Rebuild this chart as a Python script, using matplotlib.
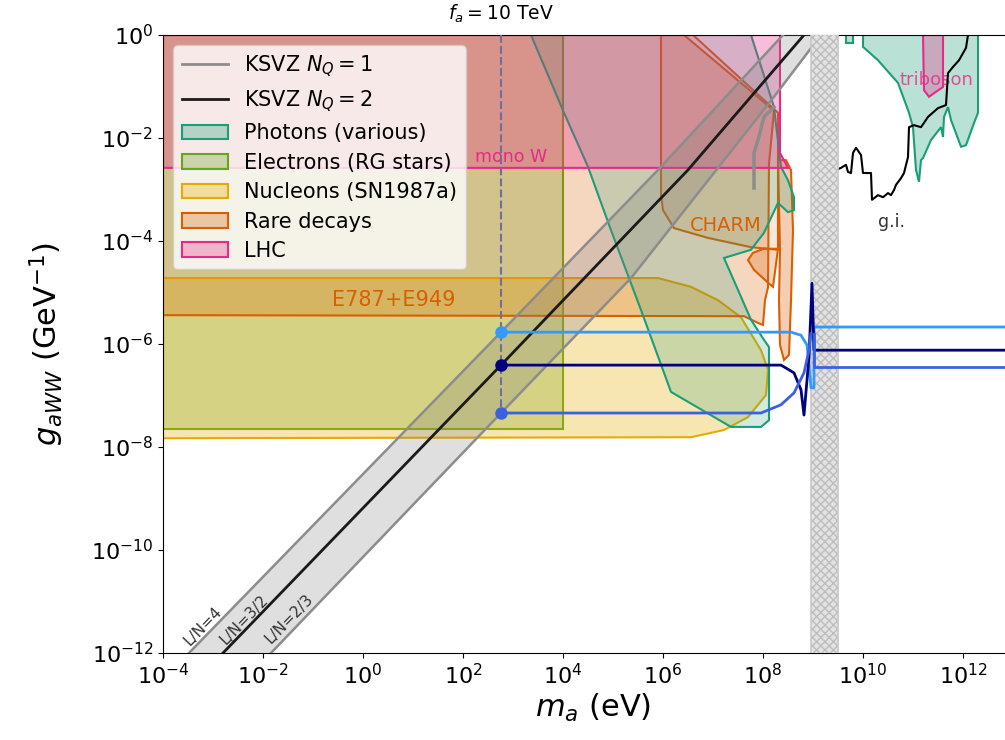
import numpy as np
import matplotlib.pyplot as plt
from matplotlib.colors import to_rgba
from matplotlib.patches import Patch
from matplotlib.lines import Line2D

# colores (Dark2)
teal, orange, pink, green, yellow = '#1b9e77', '#d95f02', '#e7298a', '#66a61e', '#e6ab02'

# --- datos: log10(m_a / eV), log10(g_aWW / GeV^-1) ---
ksvz_up_lm = [-3.48, 2.76, 5.9, 8.4]
ksvz_up_lg = [-12.0, -5.77, -2.62, 0.0]
ksvz_mid_lm = [-2.8, 2.76, 6.5, 8.82]
ksvz_mid_lg = [-12.0, -6.41, -2.62, 0.0]
ksvz_low_lm = [-1.84, 2.76, 5.36, 8.22, 9.16]
ksvz_low_lg = [-12.0, -7.34, -4.72, -1.2, 0.0]
nq1_lm = [7.82, 7.82, 7.9, 8.02, 8.22]
nq1_lg = [-2.97, -2.29, -2.04, -1.59, -1.40]

electrons_lm = [-4, 4.0, 4.0, -4]
electrons_lg = [0, 0, -7.66, -7.66]

nucleons_lm = [-4, 5.9, 6.56, 7.1, 7.56, 7.96, 8.1, 8.06, 7.7, 7.22, 6.56, -4]
nucleons_lg = [-4.72, -4.72, -4.89, -5.15, -5.48, -6.12, -6.5, -6.99, -7.42, -7.67, -7.81, -7.83]

e787_lm = [-4, 6.42, 8.22, 8.12, 8.1, 8.04, 8.0, 7.9, 7.62, -4]
e787_lg = [0, 0, -1.47, -2.5, -4.9, -5.15, -5.63, -5.59, -5.46, -5.44]
charm_lm = [5.96, 6.6, 8.3, 8.3, 7.76, 6.9, 6.22, 6.0, 5.96]
charm_lg = [0, 0, -1.51, -4.17, -4.12, -3.94, -3.75, -3.40, -3.11]
lobe_a_lm = [7.7, 7.8, 8.02, 8.3, 8.2, 8.1, 7.82]
lobe_a_lg = [-4.37, -4.23, -4.15, -4.15, -4.89, -4.81, -4.56]
lobe_b_lm = [8.3, 8.34, 8.32, 8.34, 8.42, 8.52, 8.56, 8.6, 8.56, 8.46]
lobe_b_lg = [-2.43, -4.17, -5.15, -6.02, -6.31, -6.21, -5.15, -3.79, -2.62, -2.43]

photons_lm = [3.36, 4.02, 4.5, 4.96, 5.56, 6.16, 7.36, 7.96, 8.12, 8.12, 8.02, 7.76, 7.5,
              7.22, 7.76, 8.02, 8.3, 8.5, 8.62, 8.62, 8.5, 8.36, 8.22, 7.76]
photons_lg = [0, -1.51, -2.56, -3.79, -5.34, -6.93, -7.61, -7.61, -7.48, -6.06, -5.92, -5.53, -4.95,
              -4.33, -4.17, -3.84, -3.26, -3.44, -3.40, -3.15, -2.82, -2.56, -1.40, 0]
photons_hi_lm = [10.0, 10.0, 10.3, 10.7, 10.92, 11.0, 11.06, 11.12, 11.16, 11.2, 11.36, 11.56, 11.6,
                 11.62, 11.7, 11.76, 11.96, 12.06, 12.22, 12.3, 12.3]
photons_hi_lg = [0, -0.23, -0.49, -0.93, -1.51, -1.79, -2.62, -2.85, -2.43, -2.39, -2.04, -1.79, -1.98,
                 -1.59, -1.40, -1.65, -2.17, -2.14, -1.71, -1.51, 0]
photons_box_lm = [9.66, 9.8, 9.8, 9.66]
photons_box_lg = [0, 0, -0.16, -0.16]

monow_lm = [-4, 8.34, 8.34, 8.5, -4]
monow_lg = [0, 0, -2.29, -2.58, -2.58]
triboson_lm = [11.2, 11.22, 11.32, 11.42, 11.6, 11.6]
triboson_lg = [0, -1.07, -1.20, -1.13, -1.01, 0]

gi_lm = [9.46, 9.46, 9.56, 9.66, 9.70, 9.76, 9.80, 9.86, 9.96, 10.0, 10.16, 10.18, 10.30, 10.40,
         10.50, 10.56, 10.62, 10.66, 10.76, 10.82, 10.90, 10.92, 11.02, 11.16, 11.30, 11.50, 11.66,
         11.70, 11.80, 11.92, 12.06, 12.10]
gi_lg = [0, -2.62, -2.58, -2.52, -2.66, -2.68, -2.29, -2.19, -2.33, -2.68, -2.68, -3.20, -3.11, -3.15,
         -3.07, -3.11, -3.01, -2.91, -2.78, -2.68, -2.37, -1.79, -1.75, -1.79, -1.59, -1.42, -1.36,
         -0.74, -0.62, -0.49, -0.25, 0]

hatch_lm = [8.96, 9.5]

fa_lm = 2.76
light_lm = [2.76, 8.56, 8.76, 8.88, 8.92, 8.96, 9.02, 9.02, 14]
light_lg = [-5.77, -5.77, -5.83, -6.02, -6.41, -6.85, -6.85, -5.67, -5.67]
navy_lm = [2.76, 8.36, 8.62, 8.76, 8.82, 8.92, 8.98, 9.02, 14]
navy_lg = [-6.41, -6.41, -6.56, -6.89, -7.38, -6.25, -4.82, -6.12, -6.12]
royal_lm = [2.76, 7.96, 8.36, 8.62, 8.82, 8.92, 8.96]
royal_lg = [-7.34, -7.34, -7.18, -6.95, -6.56, -6.12, -5.8]
royal_r_lm = [9.02, 9.02, 14]
royal_r_lg = [-5.8, -6.45, -6.45]


def p(v):
    return 10.0 ** np.asarray(v, dtype=float)


def region(ax, lm, lg, c, a=0.3, lw=1.5, z=1):
    ax.fill(p(lm), p(lg), facecolor=to_rgba(c, a), edgecolor=c, lw=lw, zorder=z)


fig = plt.figure(figsize=(10.05, 7.4), dpi=100)
ax = fig.add_axes([163 / 1005, 87 / 740, 860 / 1005, 618 / 740])
ax.set_xscale('log')
ax.set_yscale('log')

region(ax, electrons_lm, electrons_lg, green)
region(ax, nucleons_lm, nucleons_lg, yellow)
region(ax, e787_lm, e787_lg, orange, a=0.25)
region(ax, charm_lm, charm_lg, orange, a=0.15)
region(ax, lobe_a_lm, lobe_a_lg, orange, a=0.25)
region(ax, lobe_b_lm, lobe_b_lg, orange, a=0.3)
region(ax, photons_lm, photons_lg, teal, a=0.2)
region(ax, photons_hi_lm, photons_hi_lg, teal)
region(ax, photons_box_lm, photons_box_lg, teal)
region(ax, monow_lm, monow_lg, pink, a=0.3)
region(ax, triboson_lm, triboson_lg, pink, a=0.3)

# banda KSVZ
band_x = np.concatenate([p(ksvz_up_lm), p(ksvz_low_lm)[::-1]])
band_y = np.concatenate([p(ksvz_up_lg), p(ksvz_low_lg)[::-1]])
ax.fill(band_x, band_y, facecolor=to_rgba('#808080', 0.25), edgecolor='none', zorder=3)
ax.plot(p(ksvz_up_lm), p(ksvz_up_lg), color='#8c8c8c', lw=1.8, zorder=4)
ax.plot(p(ksvz_low_lm), p(ksvz_low_lg), color='#8c8c8c', lw=1.8, zorder=4)
ax.plot(p(nq1_lm), p(nq1_lg), color='#8c8c8c', lw=2.5, zorder=4)
ax.plot(p(ksvz_mid_lm), p(ksvz_mid_lg), color='#1a1a1a', lw=2, zorder=4)

ax.plot(p(gi_lm), p(gi_lg), color='black', lw=1.5, zorder=4)

# banda rayada
ax.fill_between(p(hatch_lm), 1e-13, 10, facecolor='#e2e2e2', edgecolor='#bdbdbd',
                hatch='xxxx', lw=0, zorder=5)
for xv in p(hatch_lm):
    ax.axvline(xv, color='#c8c8c8', lw=1.2, zorder=5)

# curvas azules
ax.plot([p(fa_lm)] * 2, [1.0, p(-7.34)], ls='--', color='#6f6f99', lw=1.5, zorder=6)
ax.plot(p(light_lm), p(light_lg), color='#3399ff', lw=2, zorder=6)
ax.plot(p(navy_lm), p(navy_lg), color='#00007f', lw=2, zorder=6)
ax.plot(p(royal_lm), p(royal_lg), color='#3a62e0', lw=2, zorder=6)
ax.plot(p(royal_r_lm), p(royal_r_lg), color='#3a62e0', lw=2, zorder=6)
ax.plot(p(fa_lm), p(light_lg[0]), 'o', color='#3399ff', ms=8, zorder=7)
ax.plot(p(fa_lm), p(navy_lg[0]), 'o', color='#00007f', ms=8, zorder=7)
ax.plot(p(fa_lm), p(royal_lg[0]), 'o', color='#3a62e0', ms=8, zorder=7)

# textos
ax.text(p(fa_lm), p(0.2), r'$f_a = 10$ TeV', ha='center', va='bottom', fontsize=13.5, clip_on=False)
ax.text(p(0.62), p(-5.15), 'E787+E949', color=orange, ha='center', va='center', fontsize=15)
ax.text(p(7.26), p(-3.69), 'CHARM', color=orange, ha='center', va='center', fontsize=14)
ax.text(p(2.96), p(-2.37), 'mono W', color=pink, ha='center', va='center', fontsize=12.5)
ax.text(p(10.56), p(-3.63), 'g.i.', color='#333333', ha='center', va='center', fontsize=12.5)
ax.text(p(11.46), p(-0.87), 'triboson', color=pink, ha='center', va='center', fontsize=13, alpha=0.8)
for lbl, lx, ly in [('L/N=4', -3.2, -11.48), ('L/N=3/2', -2.38, -11.35), ('L/N=2/3', -1.48, -11.33)]:
    ax.text(p(lx), p(ly), lbl, rotation=46, ha='center', va='center', fontsize=11, color='#333333')

ax.set_xlim(1e-4, p(13.2))
ax.set_ylim(1e-12, 1)
ax.set_xticks(p(np.arange(-4, 13, 2)))
ax.set_yticks(p(np.arange(-12, 1, 2)))
ax.minorticks_off()
ax.tick_params(labelsize=16)
ax.set_xlabel(r'$m_a$ (eV)', fontsize=22, labelpad=3)
ax.set_ylabel(r'$g_{aWW}$ (GeV$^{-1}$)', fontsize=22, labelpad=18)

handles = [
    Line2D([], [], color='#8c8c8c', lw=2, label=r'KSVZ $N_Q = 1$'),
    Line2D([], [], color='#1a1a1a', lw=2, label=r'KSVZ $N_Q = 2$'),
    Patch(facecolor=to_rgba(teal, 0.3), edgecolor=teal, lw=1.5, label='Photons (various)'),
    Patch(facecolor=to_rgba(green, 0.3), edgecolor=green, lw=1.5, label='Electrons (RG stars)'),
    Patch(facecolor=to_rgba(yellow, 0.3), edgecolor=yellow, lw=1.5, label='Nucleons (SN1987a)'),
    Patch(facecolor=to_rgba(orange, 0.3), edgecolor=orange, lw=1.5, label='Rare decays'),
    Patch(facecolor=to_rgba(pink, 0.3), edgecolor=pink, lw=1.5, label='LHC'),
]
leg = ax.legend(handles=handles, loc='upper left', fontsize=15, handlelength=2.2, labelspacing=0.45)
leg.set_zorder(10)

fig.savefig('out.png', dpi=100)
